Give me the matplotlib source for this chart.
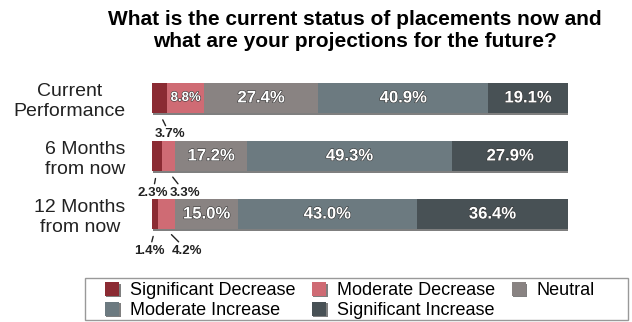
import numpy as np
import matplotlib.pyplot as plt
import matplotlib.patheffects as pe
from matplotlib.patches import Rectangle

plt.rcParams['font.family'] = ['Liberation Sans', 'DejaVu Sans']

# veri
rows = ['Current\nPerformance', '6 Months\nfrom now', '12 Months\nfrom now']
series = ['Significant Decrease', 'Moderate Decrease', 'Neutral',
          'Moderate Increase', 'Significant Increase']
sig_dec = [3.7, 2.3, 1.4]
mod_dec = [8.8, 3.3, 4.2]
neutral = [27.4, 17.2, 15.0]
mod_inc = [40.9, 49.3, 43.0]
sig_inc = [19.1, 27.9, 36.4]
colors = ['#8b2b33', '#cf6b74', '#898382', '#6c7a80', '#485155']

# kucuk degerler icin etiket yerleri (bar altinda)
small_pos = {(0, 0): 4.3, (1, 0): 0.2, (1, 1): 7.9, (2, 0): -0.6, (2, 1): 8.5}

values = [sig_dec, mod_dec, neutral, mod_inc, sig_inc]

fig = plt.figure(figsize=(6.32, 3.22), dpi=100)
ax = fig.add_axes([0.2405, 0.239, 0.6585, 0.544])

y = np.arange(len(rows))
left = np.zeros(len(rows))
shadow = [pe.withSimplePatchShadow(offset=(1, -1), shadow_rgbFace='black', alpha=0.5)]
txt_shadow = [pe.withStroke(linewidth=0.8, foreground='#333333')]
handles = []
for si, (vals, col, name) in enumerate(zip(values, colors, series)):
    vals = np.array(vals)
    b = ax.barh(y, vals, left=left, height=0.53, color=col, label=name,
                edgecolor='none', path_effects=shadow)
    handles.append(b)
    for ri in range(len(rows)):
        cx = left[ri] + vals[ri] / 2
        if (ri, si) in small_pos:
            ax.annotate(f'{vals[ri]:.1f}%', xy=(cx, y[ri] + 0.27),
                        xytext=(small_pos[(ri, si)], y[ri] + 0.63),
                        ha='center', va='center', fontsize=9.5, fontweight='bold',
                        color='#222222', annotation_clip=False,
                        arrowprops=dict(arrowstyle='-', color='#222222', lw=1,
                                        shrinkA=0, shrinkB=5))
        else:
            fs = 9.5 if vals[ri] < 10 else 12
            ax.text(cx, y[ri], f'{vals[ri]:.1f}%', ha='center', va='center',
                    fontsize=fs, fontweight='bold', color='white',
                    path_effects=txt_shadow)
    left = left + vals

ax.set_xlim(0, 100)
ax.set_ylim(2.534, -0.483)
ax.set_yticks(y)
ax.set_yticklabels(rows, fontsize=14, multialignment='center', color='#222222')
ax.tick_params(axis='y', length=0, pad=19)
ax.set_xticks([])
for s in ax.spines.values():
    s.set_visible(False)

fig.text(0.562, 0.905, 'What is the current status of placements now and\nwhat are your projections for the future?',
         ha='center', va='center', fontsize=15, fontweight='bold', linespacing=1.15)

# legend cercevesi ayri ciziliyor
fig.patches.append(Rectangle((0.1345, 0.006), 0.859, 0.131, transform=fig.transFigure,
                             fill=False, edgecolor='#999999', lw=1.0))

# legend satir satir dolsun diye sirayi degistir
order = [0, 3, 1, 4, 2]
leg = fig.legend([handles[i] for i in order], [series[i] for i in order],
                 loc='center left', bbox_to_anchor=(0.166, 0.066),
                 ncol=3, fontsize=13, frameon=False,
                 handlelength=0.8, handleheight=0.8, labelspacing=0.15, borderpad=0,
                 columnspacing=0.9, handletextpad=0.6, borderaxespad=0)

fig.savefig('out.png', dpi=100)
